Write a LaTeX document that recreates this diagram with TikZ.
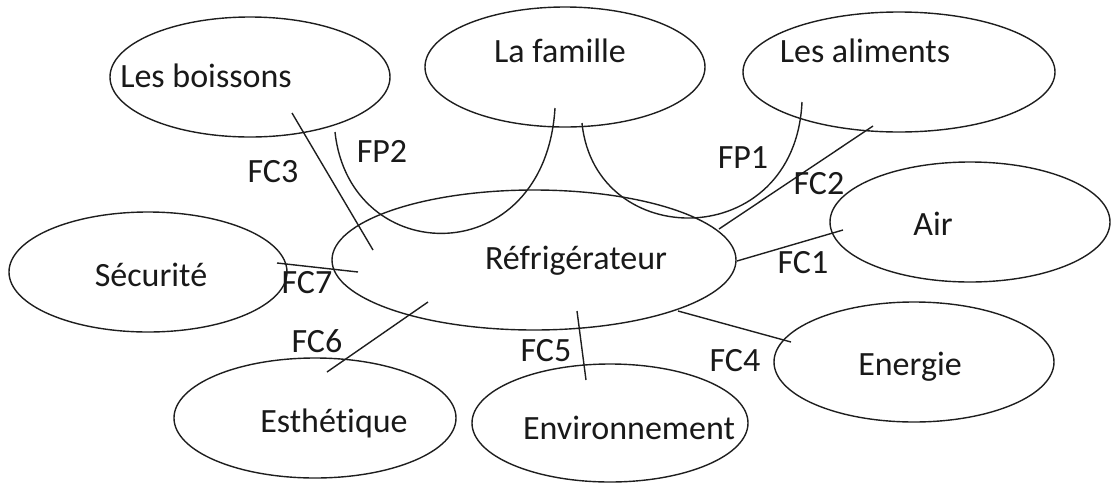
\documentclass[tikz,border=0pt]{standalone}
\usepackage{fontspec}
\setmainfont{Carlito}[Ligatures={NoCommon}]
\usetikzlibrary{shapes.geometric}
\definecolor{linecol}{RGB}{30,30,30}
\definecolor{txtcol}{RGB}{25,25,25}
\begin{document}
\begin{tikzpicture}[x=1pt,y=-1pt,
  ell/.style={draw=linecol, line width=1.4pt, ellipse, inner sep=0pt},
  lbl/.style={font=\fontsize{34}{40}\selectfont, text=txtcol, anchor=base, inner sep=0pt},
  conn/.style={draw=linecol, line width=1.4pt}]
\useasboundingbox (0,0) rectangle (1112,483);
% ellipses
\node[ell, minimum width=280pt, minimum height=120pt] (boissons) at (250,77) {};
\node[ell, minimum width=280pt, minimum height=120pt] (famille) at (565,67) {};
\node[ell, minimum width=312pt, minimum height=120pt] (aliments) at (899,72) {};
\node[ell, minimum width=280pt, minimum height=120pt] (air) at (970,222) {};
\node[ell, minimum width=278pt, minimum height=120pt] (securite) at (148,272) {};
\node[ell, minimum width=404pt, minimum height=140pt] (frigo) at (534,260) {};
\node[ell, minimum width=280pt, minimum height=120pt] (energie) at (914,362) {};
\node[ell, minimum width=282pt, minimum height=120pt] (esthetique) at (315,418) {};
\node[ell, minimum width=276pt, minimum height=118pt] (environnement) at (610,423) {};
% texts
\node[lbl] (tboissons) at (206,87) {Les boissons};
\node[lbl] (tfamille) at (560,62) {La famille};
\node[lbl] (taliments) at (865,62) {Les aliments};
\node[lbl] (tair) at (933,235) {Air};
\node[lbl] (tsecurite) at (151,286) {Sécurité};
\node[lbl] (tfrigo) at (576,269) {Réfrigérateur};
\node[lbl] (tenergie) at (910,375) {Energie};
\node[lbl] (testhetique) at (334,432) {Esthétique};
\node[lbl] (tenvironnement) at (629,439) {Environnement};
% connector end points
\coordinate (fc3a) at (292,113); \coordinate (fc3b) at (373,250);
\coordinate (fp2a) at (335,132); \coordinate (fp2b) at (555,108);
\coordinate (fp1a) at (582,123); \coordinate (fp1b) at (802,102);
\coordinate (fc2a) at (873,126); \coordinate (fc2b) at (719,229);
\coordinate (fc1a) at (737,261); \coordinate (fc1b) at (843,230);
\coordinate (fc4a) at (678,311); \coordinate (fc4b) at (791,342);
\coordinate (fc5a) at (577,311); \coordinate (fc5b) at (586,380);
\coordinate (fc6a) at (428,302); \coordinate (fc6b) at (327,372);
\coordinate (fc7a) at (277,263); \coordinate (fc7b) at (358,272);
% connectors
\draw[conn] (fc3a) -- (fc3b);
\draw[conn] (fp2a) .. controls (350,270) and (545,272) .. (fp2b);
\draw[conn] (fp1a) .. controls (595,253) and (795,253) .. (fp1b);
\draw[conn] (fc2a) -- (fc2b);
\draw[conn] (fc1a) -- (fc1b);
\draw[conn] (fc4a) -- (fc4b);
\draw[conn] (fc5a) -- (fc5b);
\draw[conn] (fc6a) -- (fc6b);
\draw[conn] (fc7a) -- (fc7b);
% labels
\node[lbl] (lfc3) at (273,182) {FC3};
\node[lbl] (lfp2) at (382,162) {FP2};
\node[lbl] (lfp1) at (743,168) {FP1};
\node[lbl] (lfc2) at (819,194) {FC2};
\node[lbl] (lfc1) at (803,273) {FC1};
\node[lbl] (lfc4) at (735,371) {FC4};
\node[lbl] (lfc5) at (546,361) {FC5};
\node[lbl] (lfc6) at (317,352) {FC6};
\node[lbl] (lfc7) at (307,293) {FC7};
\end{tikzpicture}
\end{document}
